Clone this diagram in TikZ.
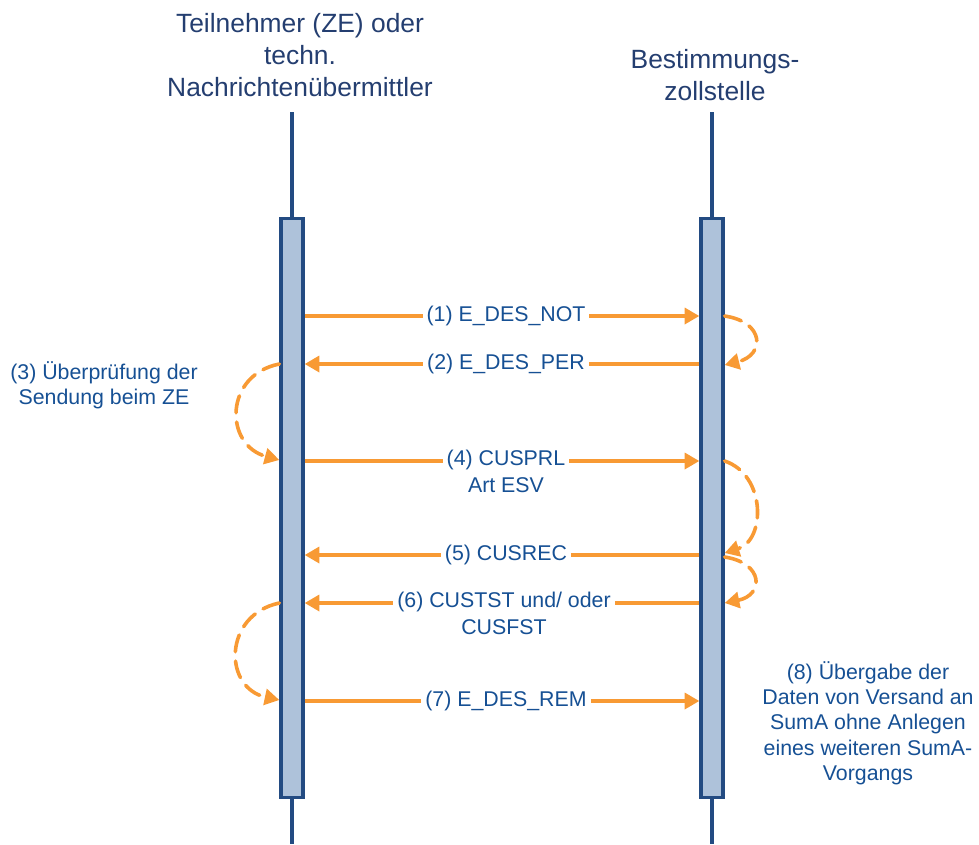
\documentclass[tikz,border=0pt]{standalone}
\usepackage{fontspec}
\setmainfont{Liberation Sans}
\usetikzlibrary{arrows.meta}
\definecolor{lineblue}{RGB}{35,75,130}
\definecolor{barfill}{RGB}{174,194,218}
\definecolor{orangeA}{RGB}{248,154,52}
\definecolor{txtblue}{RGB}{22,80,148}
\definecolor{titleblue}{RGB}{36,62,112}
\tikzset{
  lifeline/.style={draw=lineblue, line width=2.3pt},
  barbox/.style={draw=lineblue, fill=barfill, line width=2.5pt, minimum width=16.5pt, minimum height=434pt, inner sep=0pt},
  msg/.style={draw=orangeA, line width=2.5pt, -{Triangle[length=11pt,width=12pt]}},
  selfmsg/.style={draw=orangeA, line width=2.7pt, dash pattern=on 13pt off 7pt, line cap=round, -{Triangle[length=11pt,width=12pt]}},
  lbl/.style={fill=white, text=txtblue, font=\fontsize{16}{20.3}\selectfont, inner xsep=3pt, inner ysep=0pt, align=center},
  note/.style={text=txtblue, font=\fontsize{16}{19}\selectfont, align=center, inner sep=0pt},
  ttl/.style={text=titleblue, font=\fontsize{19.8}{24}\selectfont, align=center, inner sep=0pt}
}
\begin{document}
\begin{tikzpicture}[x=0.75pt,y=-0.75pt]
\useasboundingbox (0,0) rectangle (979,844);
% titles
\node[ttl] (tL) at (300,55) {Teilnehmer (ZE) oder\\techn.\\Nachrichtenübermittler};
\node[ttl] (tR) at (715,75) {Bestimmungs-\\zollstelle};
% lifelines
\coordinate (lTop) at (292,112);
\coordinate (lBot) at (292,844);
\coordinate (rTop) at (712,112);
\coordinate (rBot) at (712,844);
\draw[lifeline] (lTop) -- (lBot);
\draw[lifeline] (rTop) -- (rBot);
\node[barbox] (barL) at (292,508) {};
\node[barbox] (barR) at (712,508) {};
% message levels
\coordinate (m1) at (0,316);
\coordinate (m2) at (0,364);
\coordinate (m4) at (0,461);
\coordinate (m5) at (0,555);
\coordinate (m6) at (0,603);
\coordinate (m7) at (0,701);
\draw[msg] (barL.east |- m1) -- (barR.west |- m1);
\draw[msg] (barR.west |- m2) -- (barL.east |- m2);
\draw[msg] (barL.east |- m4) -- (barR.west |- m4);
\draw[msg] (barR.west |- m5) -- (barL.east |- m5);
\draw[msg] (barR.west |- m6) -- (barL.east |- m6);
\draw[msg] (barL.east |- m7) -- (barR.west |- m7);
% labels
\node[lbl] (l1) at (506,316) {(1) E\_DES\_NOT};
\node[lbl] (l2) at (506,364) {(2) E\_DES\_PER};
\node[lbl, anchor=north] (l4) at (506,450) {(4) CUSPRL\\Art ESV};
\node[lbl] (l5) at (506,555) {(5) CUSREC};
\node[lbl, anchor=north] (l6) at (504,592) {(6) CUSTST und/ oder\\CUSFST};
\node[lbl] (l7) at (506,701) {(7) E\_DES\_REM};
% self messages
\draw[selfmsg] (barR.east |- 0,316) .. controls (765,322) and (765,355) .. (barR.east |- 0,365);
\draw[selfmsg] (barR.east |- 0,461) .. controls (766,475) and (766,540) .. (barR.east |- 0,553);
\draw[selfmsg] (barR.east |- 0,557) .. controls (764,563) and (764,595) .. (barR.east |- 0,603);
\draw[selfmsg] (barL.west |- 0,364) .. controls (224,375) and (224,445) .. (barL.west |- 0,460);
\draw[selfmsg] (barL.west |- 0,603) .. controls (223,615) and (223,688) .. (barL.west |- 0,700);
% notes
\node[note] (n3) at (104,385) {(3) Überprüfung der\\Sendung beim ZE};
\node[note] (n8) at (868,723) {(8) Übergabe der\\Daten von Versand an\\SumA ohne Anlegen\\eines weiteren SumA-\\Vorgangs};
\end{tikzpicture}
\end{document}
